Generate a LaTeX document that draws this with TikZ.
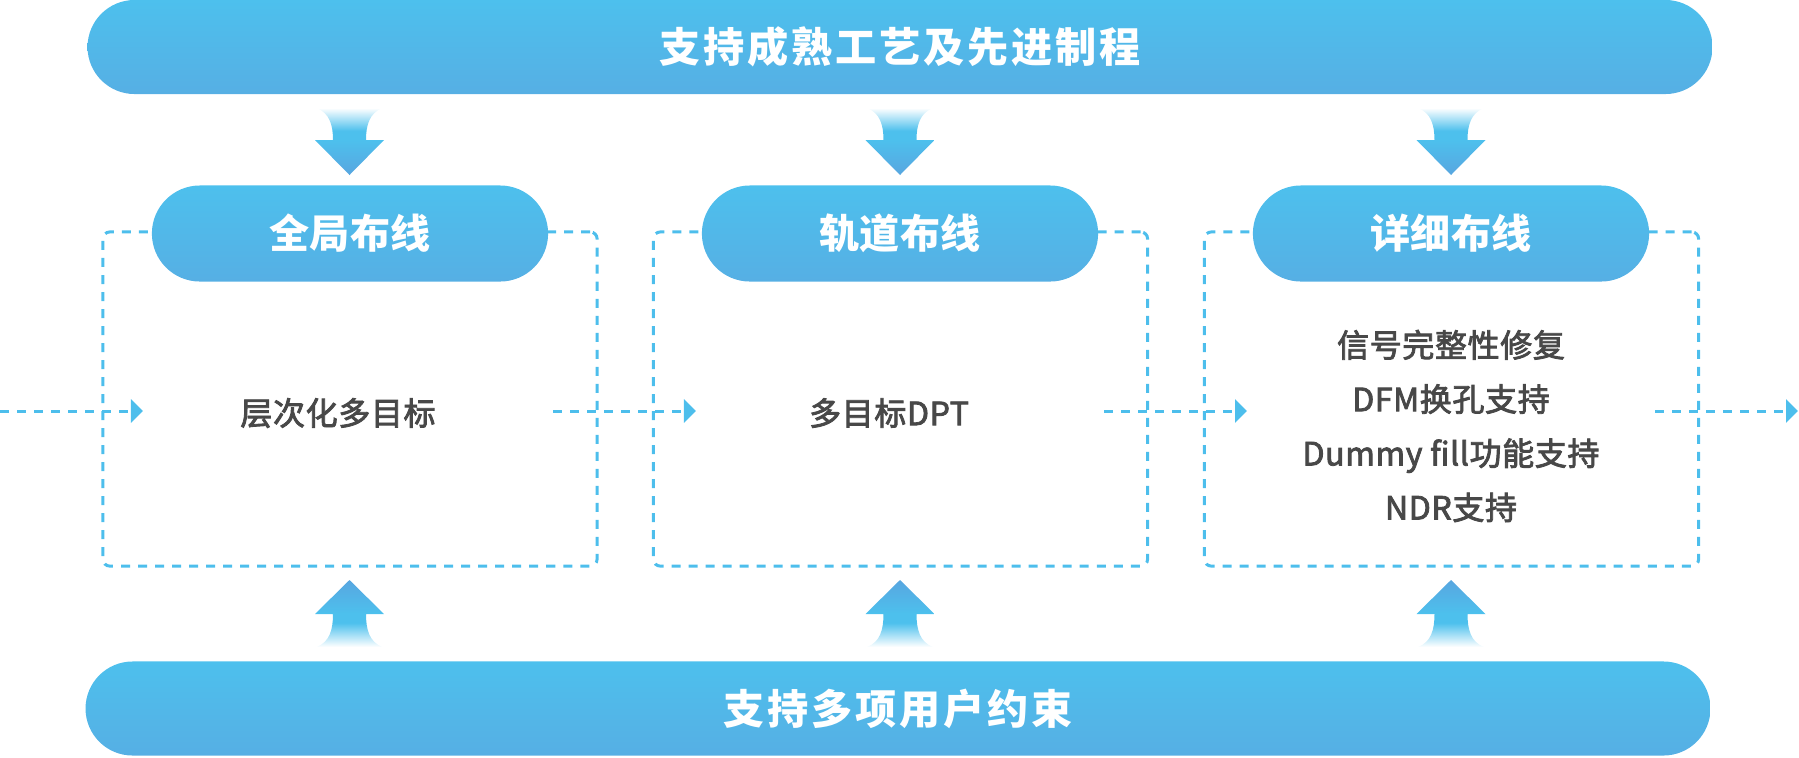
\documentclass[tikz,border=0pt]{standalone}
\usepackage{fontspec}
\newfontfamily\cjk{Noto Sans CJK SC}
\newfontfamily\cjkwide[LetterSpace=7]{Noto Sans CJK SC}
\newfontfamily\cjknote[FakeBold=2.6, LetterSpace=2]{Noto Sans CJK SC}
\usepackage{xcolor}
\usepackage{tikz}
\usetikzlibrary{arrows.meta}
\usetikzlibrary{positioning}

\definecolor{barTop}{RGB}{77,192,237}
\definecolor{barBot}{RGB}{86,175,228}
\definecolor{lineBlue}{RGB}{77,190,236}
\definecolor{arrowDark}{RGB}{88,166,224}
\definecolor{textGray}{RGB}{72,72,72}

\pgfdeclareverticalshading{downfade}{100bp}{color(0bp)=(arrowDark); color(25bp)=(arrowDark); color(51bp)=(barTop); color(58bp)=(barTop); color(75bp)=(white); color(100bp)=(white)}
\pgfdeclareverticalshading{upfade}{100bp}{color(0bp)=(white); color(25bp)=(white); color(43bp)=(barTop); color(50bp)=(barTop); color(75bp)=(arrowDark); color(100bp)=(arrowDark)}

\begin{document}
\begin{tikzpicture}[
  x=0.01cm, y=-0.01cm,
  bar/.style={rounded corners=0.47cm, minimum width=16.24cm, minimum height=0.94cm, inner sep=0pt,
    top color=barTop, bottom color=barBot, text=white, font=\cjkwide\bfseries\fontsize{11.7}{14}\selectfont},
  pill/.style={rounded corners=0.48cm, minimum width=3.96cm, minimum height=0.96cm, inner sep=0pt,
    top color=barTop, bottom color=barBot, text=white, font=\cjk\bfseries\fontsize{11.4}{14}\selectfont},
  frame/.style={draw=lineBlue, line width=0.03cm, dash pattern=on 0.09cm off 0.08cm, rounded corners=0.07cm,
    minimum width=4.94cm, minimum height=3.34cm, inner sep=0pt},
  note/.style={text=textGray, inner sep=0pt, align=center, font=\cjknote\fontsize{9.1}{15.4}\selectfont},
  flow/.style={draw=lineBlue, line width=0.03cm, dash pattern=on 0.09cm off 0.08cm,
    -{Triangle[length=0.12cm, width=0.23cm]}}
]
\useasboundingbox (0,0) rectangle (1799,757);

% bars
\node[bar] (topbar) at (900,47) {支持成熟工艺及先进制程};
\node[bar] (botbar) at (898,708.5) {支持多项用户约束};

% stages
\node[frame] (box1) at (350,399) {};
\node[frame] (box2) at (900.5,399) {};
\node[frame] (box3) at (1451.5,399) {};
\node[pill] (head1) at (350,233.5) {全局布线};
\node[pill] (head2) at (900,233.5) {轨道布线};
\node[pill] (head3) at (1451,233.5) {详细布线};

\node[note] (txt1) at (338,413) {层次化多目标};
\node[note] (txt2) at (889,413) {多目标DPT};
\node[note] (txt3) at (1451,426) {信号完整性修复\\DFM换孔支持\\Dummy fill功能支持\\NDR支持};

% big arrows
\foreach \c in {349.5,900,1451}{
  \shade[shading=downfade] (\c-33,108) .. controls (\c-20,113) and (\c-16.5,125) .. (\c-16.5,140)
    -- (\c-34.5,140) -- (\c,175) -- (\c+34.5,140) -- (\c+16.5,140)
    .. controls (\c+16.5,125) and (\c+20,113) .. (\c+33,108) -- cycle;
  \shade[shading=upfade] (\c-33,647) .. controls (\c-20,642) and (\c-16.5,630) .. (\c-16.5,614)
    -- (\c-34.5,614) -- (\c,580) -- (\c+34.5,614) -- (\c+16.5,614)
    .. controls (\c+16.5,630) and (\c+20,642) .. (\c+33,647) -- cycle;
}

% dashed flow
\foreach \s/\e [count=\i] in {0/143, 553/696, 1104/1247, 1655/1798}{
  \coordinate (from\i) at (\s,411);
  \coordinate (to\i) at (\e,411);
  \draw[flow] (from\i) -- (to\i);
}
\end{tikzpicture}
\end{document}
